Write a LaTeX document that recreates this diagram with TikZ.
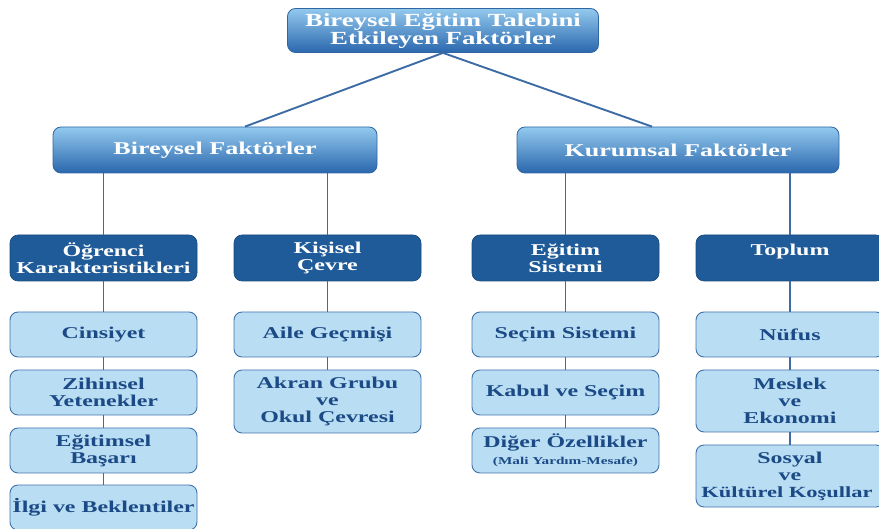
\documentclass[tikz,border=0pt]{standalone}
\usepackage{fontspec}
\newfontfamily\diag{Liberation Serif}[FakeStretch=1.45]
\usetikzlibrary{calc}
\definecolor{gtop}{HTML}{93C9EE}
\definecolor{gbot}{HTML}{2A67AD}
\definecolor{gbord}{HTML}{2F67A3}
\definecolor{dark}{HTML}{1F5B98}
\definecolor{light}{HTML}{B9DDF3}
\definecolor{lbord}{HTML}{4272AA}
\definecolor{ltext}{HTML}{1B4A86}
\definecolor{link}{HTML}{3C6BA5}
\tikzset{
  x=1pt, y=-1pt,
  base/.style={rounded corners=8pt, align=center, inner sep=0pt,
    font=\diag\bfseries\fontsize{16.5}{17}\selectfont},
  lvone/.style={base, draw=gbord, line width=0.8pt, top color=gtop, bottom color=gbot,
    text=white, minimum height=46pt},
  lvtwo/.style={base, draw=dark!80!black, line width=0.6pt, fill=dark, text=white,
    minimum width=187pt, minimum height=46pt},
  lvthree/.style={base, draw=lbord, line width=0.9pt, fill=light, text=ltext,
    minimum width=187pt, minimum height=45pt},
  conn/.style={draw=link, line width=1.9pt}
}
\begin{document}
\begin{tikzpicture}
\useasboundingbox (0,0) rectangle (879,529);
% level 0 and 1
\node[lvone, minimum width=311pt, minimum height=44pt,
  font=\diag\bfseries\fontsize{18.5}{18}\selectfont] (root) at (443,30.5)
  {Bireysel Eğitim Talebini\\Etkileyen Faktörler};
\node[lvone, minimum width=324pt, font=\diag\bfseries\fontsize{18}{18}\selectfont] (bir) at (215,150) {Bireysel Faktörler};
\node[lvone, minimum width=322pt, font=\diag\bfseries\fontsize{18}{18}\selectfont] (kur) at (678,150) {Kurumsal Faktörler};
% level 2
\node[lvtwo] (ogr) at (103.5,258) {Öğrenci\\Karakteristikleri};
\node[lvtwo] (kis) at (327.5,258) {Kişisel\\Çevre};
\node[lvtwo] (egi) at (565.5,258) {Eğitim\\Sistemi};
\node[lvtwo, minimum width=188pt] (top) at (790,258) {Toplum\\\mbox{}};
% level 3
\node[lvthree] (cins) at (103.5,334.5) {Cinsiyet};
\node[lvthree] (zih) at (103.5,392.5) {Zihinsel\\Yetenekler};
\node[lvthree] (egb) at (103.5,450.5) {Eğitimsel\\Başarı};
\node[lvthree] (ilgi) at (103.5,507.5) {İlgi ve Beklentiler};
\node[lvthree] (aile) at (327.5,334.5) {Aile Geçmişi};
\node[lvthree, minimum height=63pt] (akran) at (327.5,401.5) {Akran Grubu\\ve\\Okul Çevresi};
\node[lvthree] (sec) at (565.5,334.5) {Seçim Sistemi};
\node[lvthree] (kab) at (565.5,392.5) {Kabul ve Seçim};
\node[lvthree] (dig) at (565.5,450.5) {Diğer Özellikler\\{\fontsize{10.5}{12}\selectfont (Mali Yardım-Mesafe)}};
\node[lvthree, minimum width=188pt] (nuf) at (790,334.5) {Nüfus};
\node[lvthree, minimum width=188pt, minimum height=62pt] (mes) at (790,401) {Meslek\\ve\\Ekonomi};
\node[lvthree, minimum width=188pt, minimum height=62pt] (sos) at (790,476) {Sosyal\\ve\\\hspace*{-6pt}{\fontsize{15.5}{17}\selectfont Kültürel Koşullar}};
% connectors
\draw[conn] (root.south) -- ([xshift=30pt]bir.north);
\draw[conn] (root.south) -- ([xshift=-26pt]kur.north);
\draw[conn] (bir.south -| ogr.north) -- (ogr.north);
\draw[conn] (bir.south -| kis.north) -- (kis.north);
\draw[conn] (kur.south -| egi.north) -- (egi.north);
\draw[conn] (kur.south -| top.north) -- (top.north);
\draw[conn] (ogr) -- (cins);
\draw[conn] (cins) -- (zih);
\draw[conn] (zih) -- (egb);
\draw[conn] (egb) -- (ilgi);
\draw[conn] (kis) -- (aile);
\draw[conn] (aile) -- (akran);
\draw[conn] (egi) -- (sec);
\draw[conn] (sec) -- (kab);
\draw[conn] (kab) -- (dig);
\draw[conn] (top) -- (nuf);
\draw[conn] (nuf) -- (mes);
\draw[conn] (mes) -- (sos);
\end{tikzpicture}
\end{document}
